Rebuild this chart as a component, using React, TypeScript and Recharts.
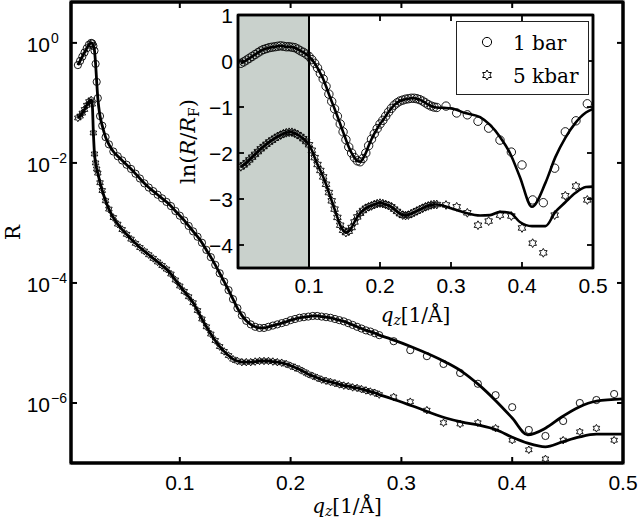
import React from 'react';
import { ComposedChart, XAxis, YAxis, Scatter, Line, ReferenceArea, ReferenceLine, Legend } from 'recharts';

const SANS = '"Liberation Sans", Arial, Helvetica, sans-serif';
const SERIF = '"DejaVu Serif", "Liberation Serif", serif';

// ---------- main panel (R, log scale) ----------
const mainQ = [0.008,0.010,0.012,0.014,0.016,0.018,0.020,0.021,0.022,0.023,0.024,0.025,0.026,0.028,0.030,0.033,0.036,
  0.040,0.044,0.048,0.052,0.056,0.060,0.064,0.068,0.072,0.076,0.080,0.084,0.088,0.092,0.096,0.100,0.104,0.108,0.112,
  0.116,0.120,0.124,0.128,0.132,0.136,0.140,0.144,0.148,0.152,0.156,0.160,0.164,0.168,0.172,0.176,0.180,0.184,0.188,
  0.192,0.196,0.200,0.204,0.208,0.212,0.216,0.220,0.224,0.228,0.232,0.236,0.240,0.244,0.248,0.252,0.256,0.260,0.264,
  0.268,0.272,0.276,0.280];

const main1bar = [0.427,0.501,0.589,0.692,0.813,0.933,1.0,0.977,0.891,0.741,0.447,0.224,0.120,0.0603,0.0417,0.0269,0.0204,
  0.0155,0.0129,0.0110,0.00933,0.00794,0.00661,0.00550,0.00457,0.00389,0.00339,0.00295,0.00257,0.00224,0.00191,0.00158,
  0.00132,0.00110,8.91e-4,7.24e-4,5.89e-4,4.68e-4,3.55e-4,2.69e-4,2.00e-4,1.45e-4,1.05e-4,7.59e-5,5.37e-5,3.80e-5,
  2.88e-5,2.34e-5,2.04e-5,1.86e-5,1.78e-5,1.78e-5,1.86e-5,1.95e-5,2.04e-5,2.14e-5,2.24e-5,2.40e-5,2.51e-5,2.63e-5,
  2.69e-5,2.75e-5,2.82e-5,2.82e-5,2.75e-5,2.69e-5,2.63e-5,2.51e-5,2.40e-5,2.29e-5,2.14e-5,2.00e-5,1.86e-5,1.74e-5,
  1.62e-5,1.55e-5,1.45e-5,1.35e-5];

const main5kbar = [0.0562,0.0603,0.0676,0.0776,0.0912,0.105,0.112,0.0955,0.0316,0.0141,0.0100,0.00794,0.00676,0.00468,
  0.00347,0.00234,0.00170,0.00123,9.55e-4,7.76e-4,6.46e-4,5.37e-4,4.57e-4,3.89e-4,3.39e-4,2.95e-4,2.57e-4,2.24e-4,
  1.95e-4,1.70e-4,1.41e-4,1.12e-4,8.91e-5,7.24e-5,5.89e-5,4.68e-5,3.47e-5,2.51e-5,1.86e-5,1.41e-5,1.10e-5,8.71e-6,
  7.24e-6,6.17e-6,5.37e-6,5.01e-6,4.79e-6,4.79e-6,4.79e-6,4.90e-6,5.01e-6,5.01e-6,5.01e-6,4.90e-6,4.79e-6,4.68e-6,
  4.47e-6,4.17e-6,3.89e-6,3.63e-6,3.31e-6,3.02e-6,2.82e-6,2.63e-6,2.45e-6,2.34e-6,2.24e-6,2.14e-6,2.04e-6,1.95e-6,
  1.91e-6,1.82e-6,1.78e-6,1.70e-6,1.62e-6,1.55e-6,1.48e-6,1.38e-6];

const sparseQ = [0.293,0.308,0.323,0.338,0.353,0.369,0.385,0.400,0.415,0.430,0.446,0.461,0.476,0.492];
const main1barSparse = [1.07e-5,7.59e-6,6.03e-6,4.47e-6,3.16e-6,2.09e-6,1.35e-6,8.51e-7,3.55e-7,2.82e-7,5.01e-7,1.0e-6,1.12e-6,1.41e-6];
const main5kbarSparse = [1.26e-6,1.05e-6,7.59e-7,4.68e-7,4.47e-7,4.68e-7,3.80e-7,2.40e-7,1.66e-7,1.17e-7,2.40e-7,3.31e-7,3.80e-7,2.40e-7];

const mainFitQ = [0.29,0.31,0.34,0.355,0.37,0.386,0.40,0.414,0.43,0.445,0.46,0.476,0.50];
const main1barFit = [1.17e-5,8.51e-6,4.79e-6,3.31e-6,2.0e-6,1.05e-6,5.62e-7,2.95e-7,3.80e-7,5.89e-7,8.51e-7,1.07e-6,1.17e-6];
const main5kbarFit = [1.20e-6,8.91e-7,5.62e-7,4.79e-7,4.27e-7,3.55e-7,2.69e-7,2.14e-7,1.86e-7,2.24e-7,2.69e-7,3.02e-7,3.02e-7];

const mainXTicks = [0.1, 0.2, 0.3, 0.4, 0.5];
const mainYTicks = [1e-6, 1e-4, 1e-2, 1];

// ---------- inset panel (ln(R/RF)) ----------
const insetQ = [0.004,0.008,0.012,0.016,0.020,0.024,0.028,0.032,0.036,0.040,0.044,0.048,0.052,0.056,0.060,0.064,0.068,
  0.072,0.076,0.080,0.084,0.088,0.092,0.096,0.100,0.104,0.108,0.112,0.116,0.120,0.124,0.128,0.132,0.136,0.140,0.144,
  0.148,0.152,0.156,0.160,0.164,0.168,0.172,0.176,0.180,0.184,0.188,0.192,0.196,0.200,0.204,0.208,0.212,0.216,0.220,
  0.224,0.228,0.232,0.236,0.240,0.244,0.248,0.252,0.256,0.260,0.264,0.268,0.272,0.276,0.280];

const inset1bar = [-0.05,-0.02,0.02,0.06,0.10,0.14,0.18,0.22,0.25,0.27,0.29,0.30,0.31,0.32,0.33,0.32,0.31,0.31,0.30,0.29,
  0.26,0.22,0.19,0.15,0.10,0.03,-0.05,-0.15,-0.27,-0.39,-0.55,-0.72,-0.88,-1.04,-1.20,-1.37,-1.54,-1.71,-1.87,-2.00,
  -2.10,-2.17,-2.19,-2.12,-2.00,-1.84,-1.70,-1.58,-1.47,-1.37,-1.29,-1.20,-1.11,-1.03,-0.96,-0.91,-0.87,-0.85,-0.83,
  -0.82,-0.81,-0.81,-0.82,-0.84,-0.87,-0.91,-0.95,-0.98,-1.00,-1.01];

const inset5kbar = [-2.30,-2.26,-2.21,-2.15,-2.09,-2.03,-1.97,-1.91,-1.86,-1.81,-1.76,-1.72,-1.68,-1.64,-1.61,-1.58,-1.56,
  -1.55,-1.55,-1.57,-1.60,-1.64,-1.69,-1.75,-1.82,-1.94,-2.10,-2.25,-2.38,-2.52,-2.68,-2.86,-3.04,-3.22,-3.40,-3.57,
  -3.68,-3.73,-3.70,-3.62,-3.50,-3.39,-3.31,-3.25,-3.20,-3.17,-3.15,-3.12,-3.10,-3.09,-3.10,-3.12,-3.14,-3.17,-3.22,
  -3.27,-3.32,-3.35,-3.36,-3.35,-3.32,-3.29,-3.26,-3.23,-3.20,-3.17,-3.15,-3.13,-3.12,-3.12];

const inset1barSparse = [-0.98,-1.13,-1.17,-1.31,-1.46,-1.72,-1.98,-2.26,-3.02,-3.08,-2.33,-1.54,-1.30,-0.93];
const inset5kbarSparse = [-3.13,-3.17,-3.30,-3.57,-3.48,-3.35,-3.37,-3.63,-3.96,-4.17,-3.35,-2.93,-2.72,-3.02];

const insetFitQ = [0.29,0.30,0.32,0.341,0.355,0.369,0.383,0.397,0.414,0.433,0.447,0.461,0.475,0.49,0.50];
const inset1barFit = [-1.02,-1.03,-1.13,-1.22,-1.39,-1.65,-2.00,-2.52,-3.17,-2.65,-2.09,-1.67,-1.35,-1.12,-1.04];
const inset5kbarFit = [-3.15,-3.20,-3.30,-3.36,-3.35,-3.28,-3.30,-3.50,-3.59,-3.59,-3.28,-3.07,-2.87,-2.74,-2.73];

const insetXTicks = [0.1, 0.2, 0.3, 0.4, 0.5];
const insetYTicks = [-4, -3, -2, -1, 0, 1];
const shadeRange = [0, 0.1];
const legendLabels = ['1 bar', '5 kbar'];

// ---------- tables ----------
const rows = (qs: number[], vs: number[]) => qs.map((q, i) => ({ q, r: vs[i] }));
const main1Pts = [...rows(mainQ, main1bar), ...rows(sparseQ, main1barSparse)];
const main5Pts = [...rows(mainQ, main5kbar), ...rows(sparseQ, main5kbarSparse)];
const main1Fit = [...rows(mainQ, main1bar), ...rows(mainFitQ, main1barFit)];
const main5Fit = [...rows(mainQ, main5kbar), ...rows(mainFitQ, main5kbarFit)];
const inset1Pts = [...rows(insetQ, inset1bar), ...rows(sparseQ, inset1barSparse)];
const inset5Pts = [...rows(insetQ, inset5kbar), ...rows(sparseQ, inset5kbarSparse)];
const inset1Fit = [...rows(insetQ, inset1bar), ...rows(insetFitQ, inset1barFit)];
const inset5Fit = [...rows(insetQ, inset5kbar), ...rows(insetFitQ, inset5kbarFit)];

// ---------- marker shapes ----------
const hexagram = (cx: number, cy: number, R: number) => {
  const pts: string[] = [];
  for (let k = 0; k < 12; k++) {
    const a = ((-90 + k * 30) * Math.PI) / 180;
    const rad = k % 2 === 0 ? R : R / Math.sqrt(3);
    pts.push(`${(cx + rad * Math.cos(a)).toFixed(2)},${(cy + rad * Math.sin(a)).toFixed(2)}`);
  }
  return pts.join(' ');
};
const circleShape = (r: number) => (p: any) =>
  p.cx == null ? <g /> : <circle cx={p.cx} cy={p.cy} r={r} fill="none" stroke="#000" strokeWidth={0.9} />;
const starShape = (R: number) => (p: any) =>
  p.cx == null ? <g /> : <polygon points={hexagram(p.cx, p.cy, R)} fill="none" stroke="#000" strokeWidth={0.9} />;

// ---------- ticks / labels ----------
const NoTick = () => <g />;
const MINUS = '\u2212';
const fmt = (v: number) => (v < 0 ? MINUS + Math.abs(v) : String(v));

const MainXTick = (p: any) => (
  <text x={p.x} y={p.y} dy={21} textAnchor="middle" fontFamily={SANS} fontSize={21} fill="#000">{String(p.payload.value)}</text>
);
const MainYTick = (p: any) => {
  const e = Math.round(Math.log10(p.payload.value));
  return (
    <g>
      <text x={p.x} y={p.y} dy={9} textAnchor="end" fontFamily={SANS} fontSize={21} fill="#000">10</text>
      <text x={p.x + 1} y={p.y} dy={0} textAnchor="start" fontFamily={SANS} fontSize={14} fill="#000">{fmt(e)}</text>
    </g>
  );
};
const InsetXTick = (p: any) => (
  <text x={p.x} y={p.y} dy={19} textAnchor="middle" fontFamily={SANS} fontSize={21} fill="#000">{String(p.payload.value)}</text>
);
const InsetYTick = (p: any) => (
  <text x={p.x} y={p.y} dy={7.5} textAnchor="end" fontFamily={SANS} fontSize={21} fill="#000">{fmt(p.payload.value)}</text>
);

const makeQLabel = (offset: number) => (p: any) => {
  const vb = p.viewBox || { x: 0, y: 0, width: 0, height: 0 };
  const x = vb.x + vb.width / 2;
  const y = vb.y + offset;
  return (
    <text x={x} y={y} textAnchor="middle" fontFamily={SERIF} fontSize={20} fill="#000">
      <tspan fontStyle="italic">q</tspan>
      <tspan fontStyle="italic" fontSize={14} dy={3}>z</tspan>
      <tspan dy={-3}>[1/</tspan>
      <tspan>Å]</tspan>
    </text>
  );
};
const MainQLabel = makeQLabel(50);
const InsetQLabel = makeQLabel(54);
const RLabel = (p: any) => {
  const vb = p.viewBox || { x: 0, y: 0, width: 0, height: 0 };
  const x = vb.x + 20;
  const y = vb.y + vb.height / 2;
  return (
    <text x={x} y={y} transform={`rotate(-90 ${x} ${y})`} textAnchor="middle" fontFamily={SERIF} fontSize={20} fill="#000">R</text>
  );
};
const LnLabel = (p: any) => {
  const vb = p.viewBox || { x: 0, y: 0, width: 0, height: 0 };
  const x = vb.x + 25;
  const y = vb.y + vb.height / 2;
  return (
    <text x={x} y={y} transform={`rotate(-90 ${x} ${y})`} textAnchor="middle" fontFamily={SERIF} fontSize={21} fill="#000">
      <tspan>ln(</tspan>
      <tspan fontStyle="italic">R</tspan>
      <tspan>/</tspan>
      <tspan fontStyle="italic">R</tspan>
      <tspan fontSize={14} dy={4}>F</tspan>
      <tspan dy={-4}>)</tspan>
    </text>
  );
};

const LegendBox = () => (
  <svg width={133} height={74} style={{ display: 'block' }}>
    <rect x={0.5} y={0.5} width={132} height={73} fill="#fff" stroke="#222" strokeWidth={1} />
    <circle cx={31} cy={21} r={4.6} fill="none" stroke="#000" strokeWidth={1} />
    <text x={57} y={29} fontFamily={SERIF} fontSize={20} fill="#000">{legendLabels[0]}</text>
    <polygon points={hexagram(31, 54, 5)} fill="none" stroke="#000" strokeWidth={1} />
    <text x={57} y={62} fontFamily={SERIF} fontSize={20} fill="#000">{legendLabels[1]}</text>
  </svg>
);

const axisStrokeMain = { stroke: '#000', strokeWidth: 3 };
const tickStrokeMain = { stroke: '#000', strokeWidth: 2 };
const axisStrokeInset = { stroke: '#000', strokeWidth: 2.5 };
const tickStrokeInset = { stroke: '#000', strokeWidth: 1.8 };

const MAIN_X_DOMAIN: [number, number] = [0.0018, 0.5];
const MAIN_Y_DOMAIN: [number, number] = [1e-7, 4.8];
const INSET_X_DOMAIN: [number, number] = [0, 0.5];
const INSET_Y_DOMAIN: [number, number] = [-4.5, 1];

export default function App() {
  return (
    <div style={{ position: 'absolute', left: 0, top: 0, width: 640, height: 521, background: '#fff' }}>
      <div style={{ position: 'absolute', left: 0, top: 0 }}>
        <ComposedChart width={640} height={521} margin={{ top: 1, right: 16, bottom: 0, left: 0 }}>
          <XAxis xAxisId="b" dataKey="q" type="number" domain={MAIN_X_DOMAIN} allowDataOverflow ticks={mainXTicks}
            interval={0} height={58} tickSize={-6} tickMargin={12} axisLine={axisStrokeMain} tickLine={tickStrokeMain}
            tick={MainXTick} label={{ content: MainQLabel }} />
          <XAxis xAxisId="t" orientation="top" dataKey="q" type="number" domain={MAIN_X_DOMAIN} allowDataOverflow
            ticks={mainXTicks} interval={0} height={1} tickSize={-6} axisLine={axisStrokeMain} tickLine={tickStrokeMain}
            tick={NoTick} />
          <YAxis yAxisId="l" dataKey="r" type="number" scale="log" domain={MAIN_Y_DOMAIN} allowDataOverflow
            ticks={mainYTicks} interval={0} width={71} tickSize={-6} tickMargin={27} axisLine={axisStrokeMain}
            tickLine={tickStrokeMain} tick={MainYTick} label={{ content: RLabel }} />
          <YAxis yAxisId="rt" orientation="right" dataKey="r" type="number" scale="log" domain={MAIN_Y_DOMAIN}
            allowDataOverflow ticks={mainYTicks} interval={0} width={1} tickSize={-6} axisLine={axisStrokeMain}
            tickLine={tickStrokeMain} tick={NoTick} />
          <Scatter name={legendLabels[0]} data={main1Pts} xAxisId="b" yAxisId="l" shape={circleShape(3.6)} isAnimationActive={false} />
          <Scatter name={legendLabels[1]} data={main5Pts} xAxisId="b" yAxisId="l" shape={starShape(3.8)} isAnimationActive={false} />
          <Line data={main1Fit} dataKey="r" xAxisId="b" yAxisId="l" type="monotone" stroke="#000" strokeWidth={2.8}
            dot={false} activeDot={false} isAnimationActive={false} legendType="none" />
          <Line data={main5Fit} dataKey="r" xAxisId="b" yAxisId="l" type="monotone" stroke="#000" strokeWidth={2.8}
            dot={false} activeDot={false} isAnimationActive={false} legendType="none" />
          <ReferenceArea xAxisId="b" yAxisId="l" x1={MAIN_X_DOMAIN[0]} x2={MAIN_X_DOMAIN[1]} y1={MAIN_Y_DOMAIN[0]}
            y2={MAIN_Y_DOMAIN[1]} fill="none" fillOpacity={0} stroke="#000" strokeWidth={3} ifOverflow="visible" />
        </ComposedChart>
      </div>
      <div style={{ position: 'absolute', left: 170, top: 5 }}>
        <ComposedChart width={450} height={330} margin={{ top: 9, right: 26, bottom: 0, left: 0 }}>
          <XAxis xAxisId="b" dataKey="q" type="number" domain={INSET_X_DOMAIN} allowDataOverflow ticks={insetXTicks}
            interval={0} height={67} tickSize={-6} tickMargin={12} axisLine={axisStrokeInset} tickLine={tickStrokeInset}
            tick={InsetXTick} label={{ content: InsetQLabel }} />
          <XAxis xAxisId="t" orientation="top" dataKey="q" type="number" domain={INSET_X_DOMAIN} allowDataOverflow
            ticks={insetXTicks} interval={0} height={1} tickSize={-6} axisLine={axisStrokeInset} tickLine={tickStrokeInset}
            tick={NoTick} />
          <YAxis yAxisId="l" dataKey="r" type="number" domain={INSET_Y_DOMAIN} allowDataOverflow ticks={insetYTicks}
            interval={0} width={68} tickSize={-6} tickMargin={11} axisLine={axisStrokeInset} tickLine={tickStrokeInset}
            tick={InsetYTick} label={{ content: LnLabel }} />
          <YAxis yAxisId="rt" orientation="right" dataKey="r" type="number" domain={INSET_Y_DOMAIN} allowDataOverflow
            ticks={insetYTicks} interval={0} width={1} tickSize={-6} axisLine={axisStrokeInset} tickLine={tickStrokeInset}
            tick={NoTick} />
          <ReferenceArea xAxisId="b" yAxisId="l" x1={INSET_X_DOMAIN[0]} x2={INSET_X_DOMAIN[1]} y1={INSET_Y_DOMAIN[0]}
            y2={INSET_Y_DOMAIN[1]} fill="#fff" fillOpacity={1} stroke="none" ifOverflow="visible" />
          <ReferenceArea xAxisId="b" yAxisId="l" x1={shadeRange[0]} x2={shadeRange[1]} y1={INSET_Y_DOMAIN[0]}
            y2={INSET_Y_DOMAIN[1]} fill="#c9d1cc" fillOpacity={1} stroke="none" ifOverflow="visible" />
          <ReferenceLine xAxisId="b" yAxisId="l" x={shadeRange[1]} stroke="#000" strokeWidth={2} />
          <Scatter name={legendLabels[0]} data={inset1Pts} xAxisId="b" yAxisId="l" shape={circleShape(4.2)} isAnimationActive={false} />
          <Scatter name={legendLabels[1]} data={inset5Pts} xAxisId="b" yAxisId="l" shape={starShape(4.4)} isAnimationActive={false} />
          <Line data={inset1Fit} dataKey="r" xAxisId="b" yAxisId="l" type="monotone" stroke="#000" strokeWidth={2.6}
            dot={false} activeDot={false} isAnimationActive={false} legendType="none" />
          <Line data={inset5Fit} dataKey="r" xAxisId="b" yAxisId="l" type="monotone" stroke="#000" strokeWidth={2.6}
            dot={false} activeDot={false} isAnimationActive={false} legendType="none" />
          <ReferenceArea xAxisId="b" yAxisId="l" x1={INSET_X_DOMAIN[0]} x2={INSET_X_DOMAIN[1]} y1={INSET_Y_DOMAIN[0]}
            y2={INSET_Y_DOMAIN[1]} fill="none" fillOpacity={0} stroke="#000" strokeWidth={2.5} ifOverflow="visible" />
          <Legend layout="vertical" align="center" verticalAlign="middle" content={LegendBox}
            wrapperStyle={{ position: 'absolute', left: 286, top: 16, width: 133, height: 74, lineHeight: 0 }} />
        </ComposedChart>
      </div>
    </div>
  );
}
